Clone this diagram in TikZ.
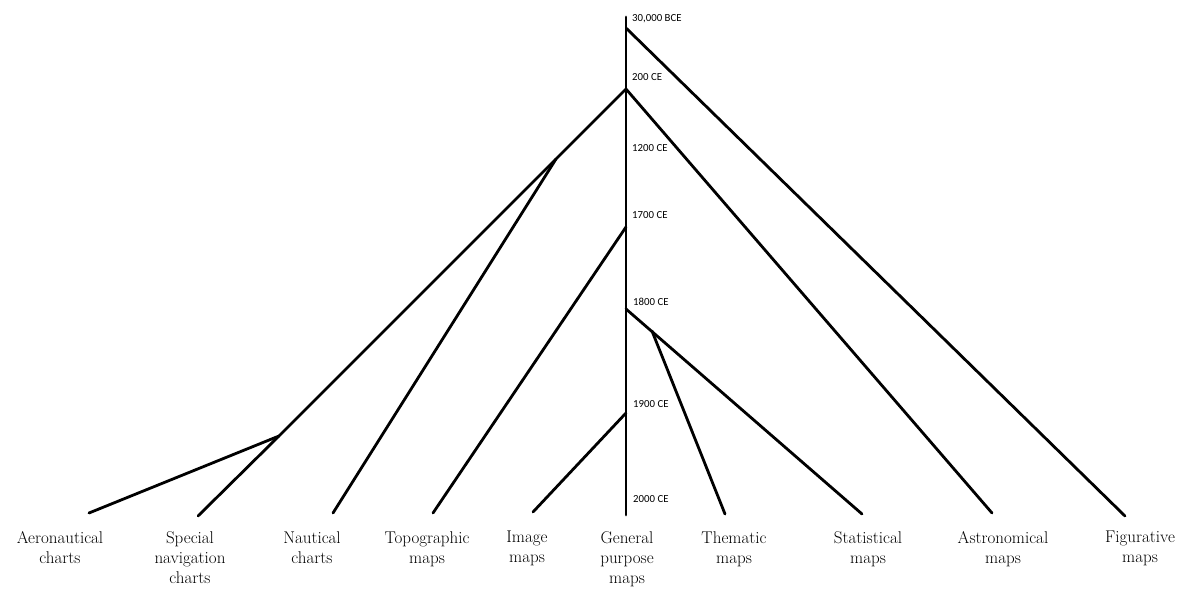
\documentclass[tikz,border=0pt]{standalone}
\usepackage{fontspec}
\newfontfamily\datefont{Carlito}
\begin{document}
\begin{tikzpicture}[x=1pt,y=-1pt,
  branch/.style={line width=2.8pt,line cap=round,line join=round},
  datelabel/.style={anchor=west,inner sep=0pt,font=\datefont\fontsize{10.8}{12}\selectfont},
  typelabel/.style={anchor=north,inner sep=0pt,align=center,font=\fontsize{17}{20}\selectfont}]
\useasboundingbox (0,0) rectangle (1187,590);

% trunk and junctions
\coordinate (top) at (626,17);
\coordinate (bottom) at (626,515);
\coordinate (j30k) at (626,28);
\coordinate (j200) at (626,89);
\coordinate (jsea) at (556,159);
\coordinate (jnav) at (279,436);
\coordinate (j1700) at (626,227);
\coordinate (j1800) at (626,309);
\coordinate (jthem) at (652,331);
\coordinate (j1900) at (626,413);

% branch ends
\coordinate (eAero) at (89,513);
\coordinate (eSpec) at (198,516);
\coordinate (eNaut) at (333,513);
\coordinate (eTopo) at (433,513);
\coordinate (eImg) at (533,512);
\coordinate (eThem) at (725,514);
\coordinate (eStat) at (862,514);
\coordinate (eAstr) at (992,513);
\coordinate (eFig) at (1125,516);

\draw[branch] (top) -- (bottom);
\draw[branch] (j30k) -- (eFig);
\draw[branch] (j200) -- (eAstr);
\draw[branch] (j200) -- (jsea) -- (jnav) -- (eSpec);
\draw[branch] (jsea) -- (eNaut);
\draw[branch] (jnav) -- (eAero);
\draw[branch] (j1700) -- (eTopo);
\draw[branch] (j1800) -- (eStat);
\draw[branch] (jthem) -- (eThem);
\draw[branch] (j1900) -- (eImg);

% dates along the trunk
\node[datelabel] (d30k) at (632,19) {30,000 BCE};
\node[datelabel] (d200) at (632,77) {200 CE};
\node[datelabel] (d1200) at (632,148) {1200 CE};
\node[datelabel] (d1700) at (632,215) {1700 CE};
\node[datelabel] (d1800) at (633,302) {1800 CE};
\node[datelabel] (d1900) at (633,404) {1900 CE};
\node[datelabel] (d2000) at (633,499) {2000 CE};

% map types
\node[typelabel] (lAero) at (60,531) {Aeronautical\\charts};
\node[typelabel] (lSpec) at (190,531) {Special\\navigation\\charts};
\node[typelabel] (lNaut) at (312,531) {Nautical\\charts};
\node[typelabel] (lTopo) at (427,531) {Topographic\\maps};
\node[typelabel] (lImg) at (527,531) {Image\\maps};
\node[typelabel] (lGen) at (627,531) {General\\purpose\\maps};
\node[typelabel] (lThem) at (734,531) {Thematic\\maps};
\node[typelabel] (lStat) at (868,531) {Statistical\\maps};
\node[typelabel] (lAstr) at (1003,531) {Astronomical\\maps};
\node[typelabel] (lFig) at (1140,531) {Figurative\\maps};
\end{tikzpicture}
\end{document}
